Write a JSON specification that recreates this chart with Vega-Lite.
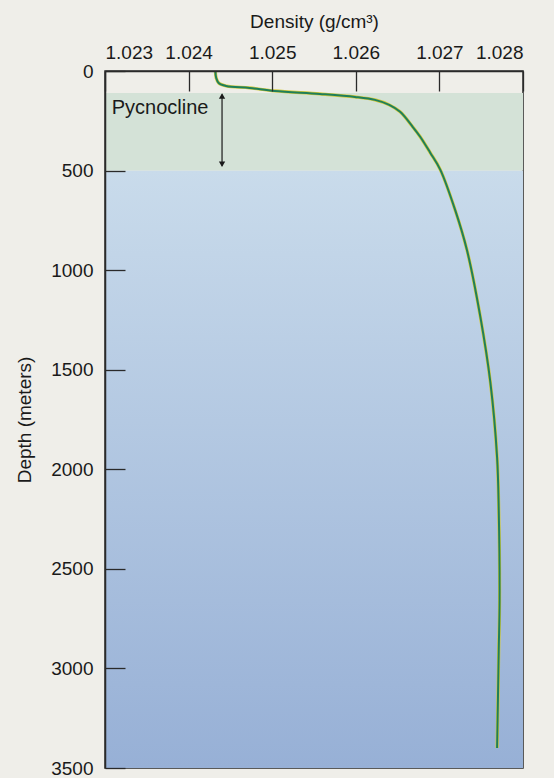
{
  "$schema": "https://vega.github.io/schema/vega-lite/v6.json",
  "width": 418,
  "height": 697,
  "autosize": {"type": "none"},
  "padding": {"left": 105, "top": 71, "right": 31, "bottom": 10},
  "background": "#efeee9",
  "config": {
    "font": "Liberation Sans",
    "view": {"stroke": "#2a2a2a", "strokeWidth": 1.5},
    "axis": {
      "domainColor": "#2a2a2a",
      "domainWidth": 1.5,
      "tickColor": "#2a2a2a",
      "tickWidth": 1.3,
      "grid": false,
      "labelFont": "Liberation Sans",
      "labelFontSize": 19,
      "labelColor": "#1a1a1a",
      "titleFont": "Liberation Sans",
      "titleFontSize": 19,
      "titleFontWeight": "normal",
      "titleColor": "#1a1a1a"
    }
  },
  "datasets": {
    "profile": [
      {"density": 1.02432, "depth": 0},
      {"density": 1.02433, "depth": 35},
      {"density": 1.02436, "depth": 60},
      {"density": 1.02445, "depth": 75},
      {"density": 1.02473, "depth": 85},
      {"density": 1.02503, "depth": 100},
      {"density": 1.02557, "depth": 115},
      {"density": 1.02599, "depth": 130},
      {"density": 1.02623, "depth": 145},
      {"density": 1.02640, "depth": 170},
      {"density": 1.02653, "depth": 205},
      {"density": 1.02668, "depth": 280},
      {"density": 1.02677, "depth": 330},
      {"density": 1.02689, "depth": 410},
      {"density": 1.02701, "depth": 495},
      {"density": 1.02719, "depth": 700},
      {"density": 1.02733, "depth": 900},
      {"density": 1.02749, "depth": 1235},
      {"density": 1.02761, "depth": 1565},
      {"density": 1.02769, "depth": 1940},
      {"density": 1.02771, "depth": 2205},
      {"density": 1.02772, "depth": 2655},
      {"density": 1.02771, "depth": 2905},
      {"density": 1.02770, "depth": 3160},
      {"density": 1.02769, "depth": 3400}
    ]
  },
  "layer": [
    {
      "data": {"values": [{"d0": 500, "d1": 3500}]},
      "mark": {
        "type": "rect",
        "color": {
          "gradient": "linear", "x1": 0, "y1": 0, "x2": 0, "y2": 1,
          "stops": [
            {"offset": 0, "color": "#c9dbeb"},
            {"offset": 1, "color": "#97b0d6"}
          ]
        }
      },
      "encoding": {
        "x": {
          "datum": 1.023, "type": "quantitative",
          "scale": {"domain": [1.023, 1.028], "nice": false, "zero": false},
          "axis": {
            "orient": "top",
            "zindex": 2,
            "title": "Density (g/cm³)",
            "values": [1.023, 1.024, 1.025, 1.026, 1.027, 1.028],
            "format": ".3f",
            "tickSize": -20,
            "labelPadding": 29,
            "titlePadding": 12
          }
        },
        "x2": {"datum": 1.028},
        "y": {
          "field": "d0", "type": "quantitative",
          "scale": {"domain": [0, 3500], "nice": false, "reverse": true},
          "axis": {
            "zindex": 2,
            "title": "Depth (meters)",
            "values": [0, 500, 1000, 1500, 2000, 2500, 3000, 3500],
            "format": "d",
            "tickSize": -20,
            "labelPadding": 32,
            "titlePadding": 16
          }
        },
        "y2": {"field": "d1"}
      }
    },
    {
      "data": {"values": [{"d0": 110, "d1": 500}]},
      "mark": {"type": "rect", "color": "#d4e2d7"},
      "encoding": {
        "x": {"datum": 1.023, "type": "quantitative"},
        "x2": {"datum": 1.028},
        "y": {"field": "d0", "type": "quantitative"},
        "y2": {"field": "d1"}
      }
    },
    {
      "data": {"name": "profile"},
      "mark": {"type": "line", "color": "#d2c93a", "strokeWidth": 3.2, "interpolate": "catmull-rom"},
      "encoding": {
        "x": {"field": "density", "type": "quantitative"},
        "y": {"field": "depth", "type": "quantitative"},
        "order": {"field": "depth"}
      }
    },
    {
      "data": {"name": "profile"},
      "mark": {"type": "line", "color": "#1f7f5a", "strokeWidth": 2, "interpolate": "catmull-rom"},
      "encoding": {
        "x": {"field": "density", "type": "quantitative"},
        "y": {"field": "depth", "type": "quantitative"},
        "order": {"field": "depth"}
      }
    },
    {
      "data": {"values": [{"x": 1.0244, "d0": 118, "d1": 474}]},
      "mark": {"type": "rule", "color": "#1a1a1a", "strokeWidth": 1.2},
      "encoding": {
        "x": {"field": "x", "type": "quantitative"},
        "y": {"field": "d0", "type": "quantitative"},
        "y2": {"field": "d1"}
      }
    },
    {
      "data": {"values": [{"x": 1.0244, "d": 125, "s": "triangle-up"}, {"x": 1.0244, "d": 468, "s": "triangle-down"}]},
      "mark": {"type": "point", "filled": true, "color": "#1a1a1a", "size": 40, "opacity": 1},
      "encoding": {
        "x": {"field": "x", "type": "quantitative"},
        "y": {"field": "d", "type": "quantitative"},
        "shape": {"field": "s", "type": "nominal", "scale": null, "legend": null}
      }
    },
    {
      "data": {"values": [{"x": 1.02308, "d": 186, "label": "Pycnocline"}]},
      "mark": {"type": "text", "align": "left", "baseline": "middle", "fontSize": 20, "font": "Liberation Sans", "color": "#1a1a1a"},
      "encoding": {
        "x": {"field": "x", "type": "quantitative"},
        "y": {"field": "d", "type": "quantitative"},
        "text": {"field": "label"}
      }
    }
  ]
}
